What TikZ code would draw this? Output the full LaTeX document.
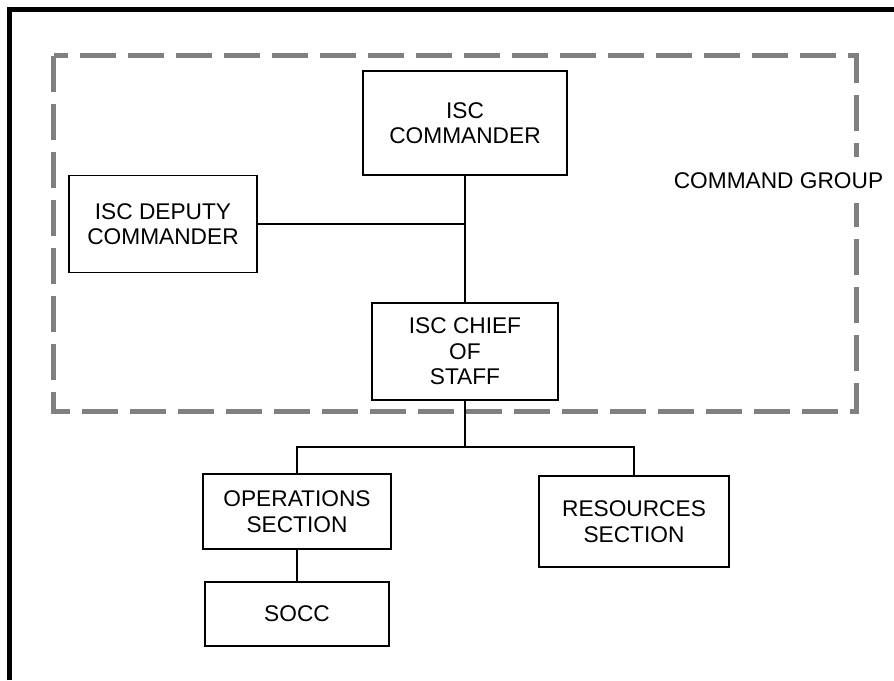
\documentclass[tikz,border=0pt]{standalone}
\usepackage{fontspec}
\setmainfont{Liberation Sans}
\definecolor{dashgray}{HTML}{808080}
\begin{document}
\begin{tikzpicture}[x=1pt,y=-1pt,
  box/.style={draw, line width=1.8pt, inner sep=0pt, align=center,
    font=\fontsize{22.7}{25.5}\selectfont},
  conn/.style={line width=1.5pt},
  grouplabel/.style={fill=white, inner xsep=0pt, inner ysep=0pt, text height=16.3pt, text depth=0pt,
    minimum height=46pt, font=\fontsize{22.7}{25.5}\selectfont}]
\useasboundingbox (0,0) rectangle (894,680);
% outer frame (left and top edges)
\draw[line width=5pt] (9.5,680) -- (9.5,9.5) -- (894,9.5);
% command group dashed outline
\draw[dashgray, line width=5pt, dash pattern=on 36pt off 12pt] (53.5,55.5) rectangle (856.5,411.5);
\node[grouplabel] (grp) at (778.5,180) {COMMAND GROUP};
% boxes
\node[box, minimum width=204pt, minimum height=104pt] (cmd) at (465,123) {ISC\\COMMANDER};
\node[box, minimum width=188pt, minimum height=97pt] (dep) at (163,224) {ISC DEPUTY\\COMMANDER};
\node[box, minimum width=186pt, minimum height=97pt] (cos) at (465,351.5) {ISC CHIEF\\OF\\STAFF};
\node[box, minimum width=188pt, minimum height=75pt] (ops) at (297,511.5) {OPERATIONS\\SECTION};
\node[box, minimum width=190pt, minimum height=91pt] (res) at (634,521.5) {RESOURCES\\SECTION};
\node[box, minimum width=184pt, minimum height=64pt] (socc) at (297,614) {SOCC};
% connectors
\coordinate (bus) at (465,447);
\draw[conn] (cmd.south) -- (cos.north);
\draw[conn] (dep.east) -- (cmd.south |- dep.east);
\draw[conn] (cos.south) -- (bus);
\draw[conn] (ops.north) |- (bus) -| (res.north);
\draw[conn] (ops.south) -- (socc.north);
\end{tikzpicture}
\end{document}
